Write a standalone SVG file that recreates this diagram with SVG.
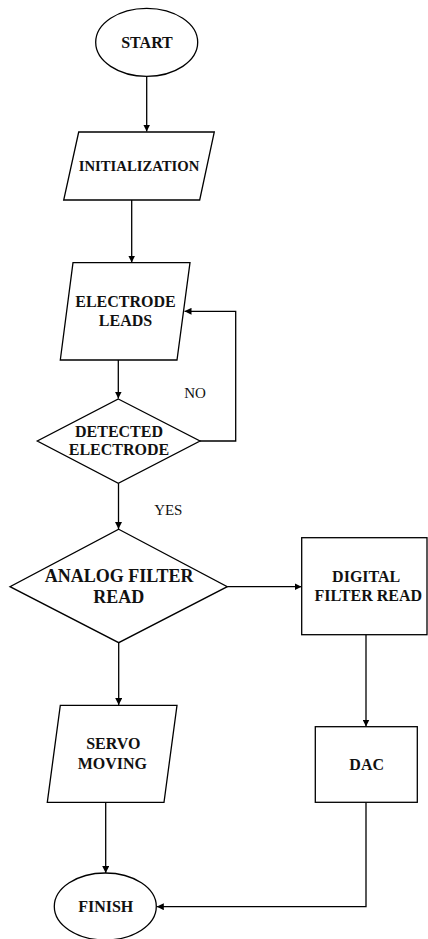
<svg xmlns="http://www.w3.org/2000/svg" width="428" height="939" viewBox="0 0 428 939">
<style>
.s{fill:#fff;stroke:#000;stroke-width:1.3}
.t{font-family:"Liberation Serif","Times New Roman",serif;font-weight:bold;font-size:16px;text-anchor:middle;fill:#111}
.l{font-family:"Liberation Serif","Times New Roman",serif;font-size:15px;text-anchor:middle;fill:#111}
.c{fill:none;stroke:#000;stroke-width:1.3}
</style>
<defs>
<marker id="a" viewBox="0 0 10 10" refX="10" refY="5" markerWidth="7" markerHeight="7" markerUnits="userSpaceOnUse" orient="auto"><path d="M0,0 L10,5 L0,10 z" fill="#000"/></marker>
</defs>
<rect width="428" height="939" fill="#fff"/>
<g id="connectors">
<path class="c" d="M146.7,76.5 V131.5" marker-end="url(#a)"/>
<path class="c" d="M131.7,200 V262.5" marker-end="url(#a)"/>
<path class="c" d="M118.3,360 V398.5" marker-end="url(#a)"/>
<path class="c" d="M200,441 H235.7 V311.3 H184.5" marker-end="url(#a)"/>
<path class="c" d="M118.5,483.3 V529" marker-end="url(#a)"/>
<path class="c" d="M227.3,586.7 H301.5" marker-end="url(#a)"/>
<path class="c" d="M118.7,642.7 V705" marker-end="url(#a)"/>
<path class="c" d="M366,634.7 V726.5" marker-end="url(#a)"/>
<path class="c" d="M105.7,802.3 V873" marker-end="url(#a)"/>
<path class="c" d="M366,802.3 V906.7 H156.8" marker-end="url(#a)"/>
<text class="l" x="195" y="397.7">NO</text>
<text class="l" x="168.3" y="515">YES</text>
</g>
<g id="start">
<ellipse class="s" cx="146.7" cy="42.3" rx="51" ry="34"/>
<text class="t" x="147" y="48">START</text>
</g>
<g id="init">
<polygon class="s" points="78.7,132 214.3,132 199.7,200 63.7,200"/>
<text class="t" x="139" y="171" style="font-size:14.7px">INITIALIZATION</text>
</g>
<g id="leads">
<polygon class="s" points="73,262.7 190,262.7 177,360 60.3,360"/>
<text class="t" x="125.5" y="307">ELECTRODE</text>
<text class="t" x="125.5" y="326">LEADS</text>
</g>
<g id="detected">
<polygon class="s" points="118.3,399 200,441 118.3,483.3 37.3,441"/>
<text class="t" x="119" y="437">DETECTED</text>
<text class="t" x="119" y="455.3">ELECTRODE</text>
</g>
<g id="analog">
<polygon class="s" points="118.7,529.3 227.3,586.7 118.7,642.7 10,586.7"/>
<text class="t" x="119.2" y="582" style="font-size:18px">ANALOG FILTER</text>
<text class="t" x="118.7" y="603.3" style="font-size:18px">READ</text>
</g>
<g id="digital">
<rect class="s" x="301.7" y="537.7" width="125.3" height="97"/>
<text class="t" x="366.2" y="582">DIGITAL</text>
<text class="t" x="368.3" y="601">FILTER READ</text>
</g>
<g id="servo">
<polygon class="s" points="60.3,705.3 177,705.3 164,802.3 47.3,802.3"/>
<text class="t" x="113.3" y="749.3">SERVO</text>
<text class="t" x="112.3" y="769.3">MOVING</text>
</g>
<g id="dac">
<rect class="s" x="315.3" y="726.7" width="102" height="75.6"/>
<text class="t" x="366.7" y="769.6">DAC</text>
</g>
<g id="finish">
<ellipse class="s" cx="105.3" cy="906.5" rx="51" ry="33.5"/>
<text class="t" x="105.7" y="912">FINISH</text>
</g>
</svg>
